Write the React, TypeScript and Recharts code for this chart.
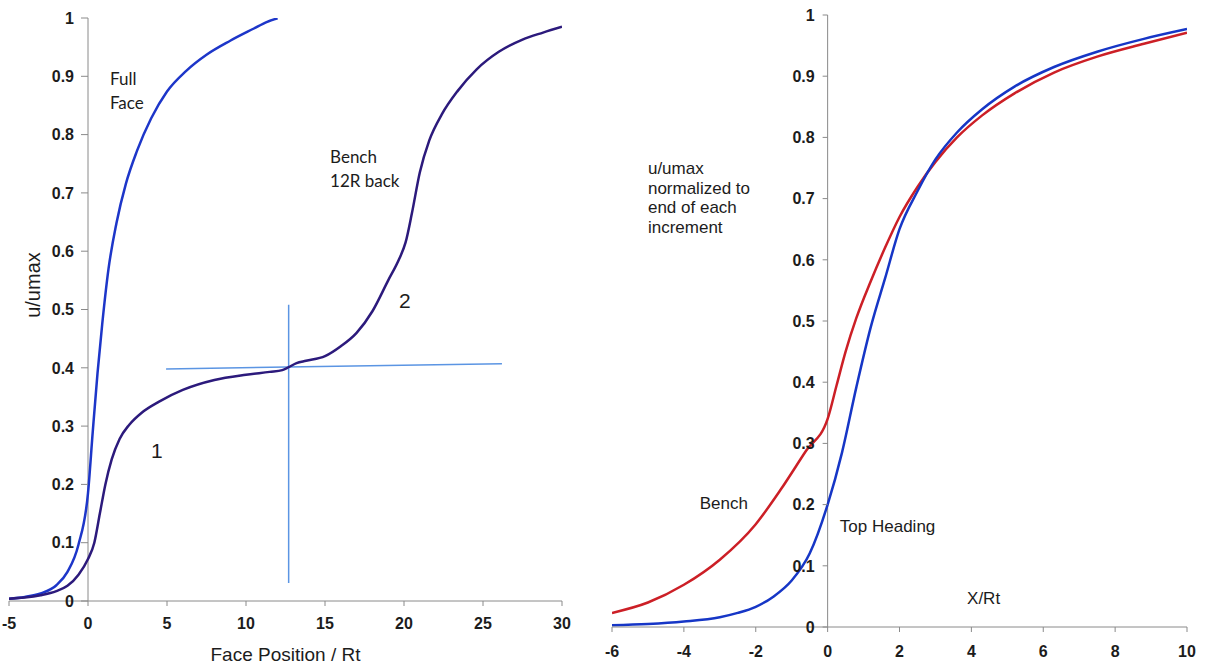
import React from 'react';
import { LineChart, Line, XAxis, YAxis, ReferenceLine, ReferenceDot, Label } from 'recharts';

// ---------- shared ticks ----------
const yTicks = [0, 0.1, 0.2, 0.3, 0.4, 0.5, 0.6, 0.7, 0.8, 0.9, 1];
const faceTicks = [-5, 0, 5, 10, 15, 20, 25, 30];
const xrtTicks = [-6, -4, -2, 0, 2, 4, 6, 8, 10];

// ---------- left panel: displacement vs face position ----------
const fullFaceX = [-5, -4, -3, -2, -1.3, -0.6, 0, 0.3, 0.6, 0.9, 1.3, 1.8, 2.4, 3.1, 4.0, 5.0, 6.2, 7.5, 9.0, 10.5, 11.3, 12.0];
const fullFaceY = [0.004, 0.007, 0.013, 0.027, 0.05, 0.097, 0.185, 0.29, 0.39, 0.475, 0.57, 0.648, 0.716, 0.772, 0.828, 0.874, 0.909, 0.937, 0.961, 0.982, 0.993, 0.9995];

const benchX = [-5, -4, -3, -2, -1.3, -0.6, 0, 0.4, 0.75, 1.1, 1.5, 2.0, 2.6, 3.4, 4.5, 6.0, 8.0, 10.0, 11.5, 12.3, 12.7, 13.2, 13.8, 15.0, 16.0, 17.0, 18.0, 19.0, 19.7, 20.1, 20.5, 21.0, 21.6, 22.4, 23.4, 24.6, 26.0, 27.5, 28.8, 30];
const benchY = [0.004, 0.006, 0.01, 0.017, 0.026, 0.045, 0.072, 0.1, 0.15, 0.2, 0.243, 0.278, 0.302, 0.323, 0.342, 0.362, 0.379, 0.388, 0.393, 0.396, 0.401, 0.408, 0.412, 0.42, 0.437, 0.46, 0.497, 0.55, 0.587, 0.615, 0.665, 0.735, 0.79, 0.835, 0.875, 0.912, 0.942, 0.963, 0.975, 0.985];

// construction guides (horizontal and vertical)
const guideH = [{ x: 4.94, y: 0.398 }, { x: 26.2, y: 0.407 }];
const guideV = [{ x: 12.7, y: 0.031 }, { x: 12.7, y: 0.508 }];

// ---------- right panel: normalized displacement vs X/Rt ----------
const benchNormX = [-6, -5, -4, -3, -2, -1.3, -0.6, 0, 0.25, 0.5, 0.8, 1.2, 1.6, 2.0, 2.5, 3.0, 3.6, 4.3, 5.2, 6.3, 7.5, 8.8, 10];
const benchNormY = [0.023, 0.04, 0.069, 0.11, 0.168, 0.225, 0.288, 0.34, 0.395, 0.45, 0.505, 0.565, 0.62, 0.67, 0.719, 0.76, 0.8, 0.836, 0.872, 0.906, 0.932, 0.953, 0.971];

const topHeadX = [-6, -5, -4, -3, -2.5, -2, -1.5, -1, -0.5, 0, 0.4, 0.8, 1.2, 1.6, 2.0, 2.5, 3.0, 3.6, 4.3, 5.2, 6.3, 7.5, 8.8, 10];
const topHeadY = [0.003, 0.005, 0.009, 0.016, 0.023, 0.033, 0.05, 0.076, 0.12, 0.2, 0.285, 0.392, 0.49, 0.57, 0.65, 0.712, 0.764, 0.808, 0.846, 0.883, 0.915, 0.94, 0.961, 0.977];

const zip = (xs: number[], ys: number[]) => xs.map((x, i) => ({ x, y: ys[i] }));

const AXIS = '#8a8a8a';
const TEXT = '#1c1c1c';
const ARIAL = "'Liberation Sans', Arial, sans-serif";
const HUMANIST = "Lato, 'Open Sans', sans-serif";

const tickStyle = { fill: TEXT, fontSize: 16, fontWeight: 700, fontFamily: ARIAL };

// Y axis drawn where x = 0 crosses the plot
function CrossedYTick(props: any) {
  const { y, payload, zeroX, len, gap } = props;
  return (
    <g>
      <line x1={zeroX - len} x2={zeroX} y1={y} y2={y} stroke={AXIS} strokeWidth={1} />
      <text x={zeroX - gap} y={y} dy="0.36em" textAnchor="end" {...tickStyle}>
        {String(payload.value)}
      </text>
    </g>
  );
}

type NoteOpts = { size: number; family: string; lineHeight?: number; anchor?: 'start' | 'middle' | 'end'; rotate?: boolean };

function noteShape(lines: string[], o: NoteOpts) {
  return (p: any) => {
    const { cx, cy } = p;
    return (
      <text
        x={cx}
        y={cy}
        fontSize={o.size}
        fontFamily={o.family}
        fill={TEXT}
        textAnchor={o.anchor ?? 'start'}
        transform={o.rotate ? `rotate(-90 ${cx} ${cy})` : undefined}
      >
        {lines.map((t, i) => (
          <tspan key={i} x={cx} dy={i === 0 ? '0.36em' : o.lineHeight}>
            {t}
          </tspan>
        ))}
      </text>
    );
  };
}

// left panel geometry (y axis is 1px wide, so the plot starts at margin + 1)
const L_W = 600, L_H = 666;
const L_M = { top: 18, right: 38, bottom: 5, left: 8 };
const L_XMIN = -5, L_XMAX = 30;
const L_PLOT_LEFT = L_M.left + 1;
const L_ZERO = L_PLOT_LEFT + ((0 - L_XMIN) / (L_XMAX - L_XMIN)) * (L_W - L_PLOT_LEFT - L_M.right);

// right panel geometry
const R_W = 605, R_H = 666;
const R_M = { top: 15, right: 18, bottom: 0, left: 11 };
const R_XMIN = -6, R_XMAX = 10;
const R_PLOT_LEFT = R_M.left + 1;
const R_ZERO = R_PLOT_LEFT + ((0 - R_XMIN) / (R_XMAX - R_XMIN)) * (R_W - R_PLOT_LEFT - R_M.right);

const leftNotes = [
  { x: -3.48, y: 0.542, lines: ['u/umax'], o: { size: 20, family: ARIAL, anchor: 'middle' as const, rotate: true } },
  { x: 1.39, y: 0.895, lines: ['Full', 'Face'], o: { size: 17, family: HUMANIST, lineHeight: 23.5 } },
  { x: 15.32, y: 0.761, lines: ['Bench', '12R back'], o: { size: 17, family: HUMANIST, lineHeight: 23.5 } },
  { x: 4.35, y: 0.258, lines: ['1'], o: { size: 21, family: ARIAL, anchor: 'middle' as const } },
  { x: 20.06, y: 0.515, lines: ['2'], o: { size: 21, family: ARIAL, anchor: 'middle' as const } },
];

const rightNotes = [
  { x: -5.0, y: 0.75, lines: ['u/umax', 'normalized to', 'end of each', 'increment'], o: { size: 17, family: ARIAL, lineHeight: 19.5 } },
  { x: -3.56, y: 0.203, lines: ['Bench'], o: { size: 17, family: ARIAL } },
  { x: 0.34, y: 0.165, lines: ['Top Heading'], o: { size: 17, family: ARIAL } },
  { x: 3.88, y: 0.047, lines: ['X/Rt'], o: { size: 17, family: ARIAL } },
];

export default function App() {
  return (
    <div style={{ position: 'absolute', left: 0, top: 0, width: 1205, height: 666, background: '#fff' }}>
      <div style={{ position: 'absolute', left: 0, top: 0 }}>
        <LineChart width={L_W} height={L_H} margin={L_M}>
          <XAxis
            type="number"
            dataKey="x"
            domain={[L_XMIN, L_XMAX]}
            ticks={faceTicks}
            interval={0}
            allowDataOverflow
            stroke={AXIS}
            tickSize={5}
            tickMargin={12}
            tick={tickStyle}
            height={60}
          >
            <Label value="Face Position / Rt" position="insideBottom" offset={0} fontSize={19} fill={TEXT} fontFamily={ARIAL} />
          </XAxis>
          <YAxis
            type="number"
            domain={[0, 1]}
            ticks={yTicks}
            interval={0}
            width={1}
            axisLine={false}
            tickLine={false}
            allowDataOverflow
            tick={(p: any) => <CrossedYTick {...p} zeroX={L_ZERO} len={7} gap={14} />}
          />
          <ReferenceLine x={0} stroke={AXIS} strokeWidth={1} />
          <ReferenceLine segment={guideH} stroke="#5b95e3" strokeWidth={1.5} />
          <ReferenceLine segment={guideV} stroke="#5b95e3" strokeWidth={1.5} />
          <Line data={zip(fullFaceX, fullFaceY)} dataKey="y" type="monotone" stroke="#1d36c9" strokeWidth={2.5} dot={false} isAnimationActive={false} />
          <Line data={zip(benchX, benchY)} dataKey="y" type="monotone" stroke="#2c1a7c" strokeWidth={2.5} dot={false} isAnimationActive={false} />
          {leftNotes.map((n, i) => (
            <ReferenceDot key={i} x={n.x} y={n.y} r={1} fill="none" stroke="none" shape={noteShape(n.lines, n.o)} />
          ))}
        </LineChart>
      </div>
      <div style={{ position: 'absolute', left: 600, top: 0 }}>
        <LineChart width={R_W} height={R_H} margin={R_M}>
          <XAxis
            type="number"
            dataKey="x"
            domain={[R_XMIN, R_XMAX]}
            ticks={xrtTicks}
            interval={0}
            allowDataOverflow
            stroke={AXIS}
            tickSize={5}
            tickMargin={14}
            tick={tickStyle}
            height={39}
          />
          <YAxis
            type="number"
            domain={[0, 1]}
            ticks={yTicks}
            interval={0}
            width={1}
            axisLine={false}
            tickLine={false}
            allowDataOverflow
            tick={(p: any) => <CrossedYTick {...p} zeroX={R_ZERO} len={5} gap={13} />}
          />
          <ReferenceLine x={0} stroke={AXIS} strokeWidth={1} />
          <Line data={zip(benchNormX, benchNormY)} dataKey="y" type="monotone" stroke="#cc1f26" strokeWidth={2.5} dot={false} isAnimationActive={false} />
          <Line data={zip(topHeadX, topHeadY)} dataKey="y" type="monotone" stroke="#1636c6" strokeWidth={2.5} dot={false} isAnimationActive={false} />
          {rightNotes.map((n, i) => (
            <ReferenceDot key={i} x={n.x} y={n.y} r={1} fill="none" stroke="none" shape={noteShape(n.lines, n.o)} />
          ))}
        </LineChart>
      </div>
    </div>
  );
}
